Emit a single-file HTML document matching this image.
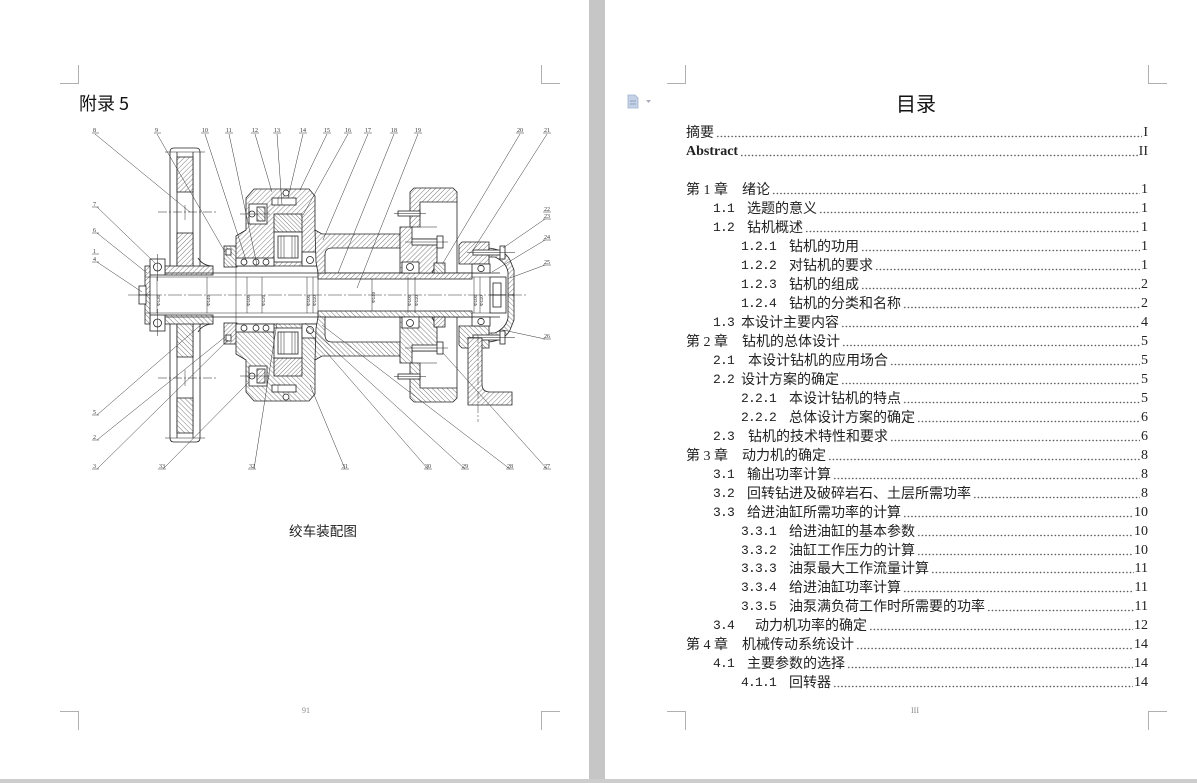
<!DOCTYPE html>
<html><head><meta charset="utf-8"><style>
html,body{margin:0;padding:0;background:#fff}
body{width:1197px;height:783px;position:relative;overflow:hidden;font-family:"Liberation Serif","Noto Sans CJK SC",serif}
.cm{position:absolute;background:#b0b0b0}
.r{position:absolute;right:49px;height:19px;line-height:19px;display:flex;font-size:14px;font-family:"Liberation Serif","Noto Sans CJK SC",serif;color:#222;white-space:nowrap}
.t{font-family:"Noto Sans CJK SC",sans-serif}
.ld{flex:1;margin:0 1px 0 2px;background-image:radial-gradient(circle,#555 0.6px,rgba(255,255,255,0) 0.95px);background-size:3.6px 3px;background-repeat:repeat-x;background-position:0 12px}
.n{position:absolute;font-family:"Liberation Mono",monospace;font-size:13px;letter-spacing:-0.8px;line-height:19px;height:19px;color:#222;white-space:nowrap}
.c{position:absolute;font-size:14px;line-height:19px;height:19px;color:#222;white-space:nowrap;font-family:"Liberation Serif","Noto Sans CJK SC",serif}
</style></head><body>

<!-- divider and bottom strip -->
<div style="position:absolute;left:589px;top:0;width:16px;height:783px;background:#c6c6c6"></div>
<div style="position:absolute;left:0;top:779px;width:1197px;height:4px;background:#cdcdcd"></div>

<!-- corner marks left page -->
<div class="cm" style="left:60px;top:83px;width:18px;height:1px"></div>
<div class="cm" style="left:78px;top:65px;width:1px;height:19px"></div>
<div class="cm" style="left:541px;top:83px;width:19px;height:1px"></div>
<div class="cm" style="left:541px;top:65px;width:1px;height:19px"></div>
<div class="cm" style="left:60px;top:711px;width:18px;height:1px"></div>
<div class="cm" style="left:78px;top:711px;width:1px;height:19px"></div>
<div class="cm" style="left:541px;top:711px;width:19px;height:1px"></div>
<div class="cm" style="left:541px;top:711px;width:1px;height:19px"></div>
<!-- corner marks right page -->
<div class="cm" style="left:667px;top:83px;width:18px;height:1px"></div>
<div class="cm" style="left:685px;top:65px;width:1px;height:19px"></div>
<div class="cm" style="left:1148px;top:83px;width:19px;height:1px"></div>
<div class="cm" style="left:1148px;top:65px;width:1px;height:19px"></div>
<div class="cm" style="left:667px;top:711px;width:18px;height:1px"></div>
<div class="cm" style="left:685px;top:711px;width:1px;height:19px"></div>
<div class="cm" style="left:1148px;top:711px;width:19px;height:1px"></div>
<div class="cm" style="left:1148px;top:711px;width:1px;height:19px"></div>

<!-- left page texts -->
<div style="position:absolute;left:79px;top:91px;font-size:18px;line-height:24px;color:#111;font-family:'Noto Sans CJK SC',sans-serif">附录 5</div>
<div style="position:absolute;left:289px;top:520px;font-size:13.6px;line-height:20px;color:#222;font-family:'Noto Sans CJK SC',sans-serif">绞车装配图</div>
<div style="position:absolute;left:302px;top:705px;font-size:8px;line-height:12px;color:#888">91</div>
<div style="position:absolute;left:911px;top:705px;font-size:8px;line-height:12px;color:#888">III</div>

<!-- drawing -->
<svg width="589" height="779" style="position:absolute;left:0;top:0" xmlns="http://www.w3.org/2000/svg">
<defs>
<pattern id="h" patternUnits="userSpaceOnUse" width="3.5" height="3.5" patternTransform="rotate(45)"><rect width="3.5" height="3.5" fill="#fff"/><line x1="0" y1="0" x2="0" y2="3.5" stroke="#444" stroke-width="0.7"/></pattern>
<pattern id="g" patternUnits="userSpaceOnUse" width="3" height="3" patternTransform="rotate(-45)"><rect width="3" height="3" fill="#fff"/><line x1="0" y1="0" x2="0" y2="3" stroke="#444" stroke-width="0.7"/></pattern>
</defs>
<g id="up" stroke="#222" stroke-width="0.8" fill="none">
 <!-- big gear -->
 <path d="M170 267 V152 Q170 148 174 148 H196 Q200 148 200 152 V267"/>
 <line x1="165" y1="152" x2="205" y2="152" stroke-width="0.5"/>
 <line x1="177" y1="152" x2="177" y2="267"/>
 <line x1="193" y1="152" x2="193" y2="267"/>
 <rect x="177" y="157" width="16" height="35" fill="url(#h)"/>
 <rect x="177" y="233" width="16" height="34" fill="url(#h)"/>
 <line x1="158" y1="212" x2="216" y2="212" stroke-width="0.5" stroke-dasharray="9 2 2 2"/>
 <rect x="165" y="266" width="48" height="9" fill="url(#h)"/>
 <path d="M198 258 Q203 266 213 266"/>
 <!-- left end -->
 <rect x="150" y="259" width="15" height="16" fill="#fff"/>
 <circle cx="157.5" cy="267" r="4"/>
 <line x1="157.5" y1="254" x2="157.5" y2="281" stroke-width="0.5"/>
 <rect x="145" y="266" width="5" height="29" fill="url(#h)"/>
 <rect x="139" y="286" width="7" height="9" fill="#fff"/>
 <!-- small seal block -->
 <rect x="224" y="246" width="13" height="21" fill="url(#g)"/>
 <rect x="226" y="249" width="5" height="6" fill="#fff"/>
 <!-- shaft -->
 <line x1="165" y1="273" x2="500" y2="273"/>
 <line x1="145" y1="277" x2="490" y2="277" stroke-width="0.5"/>
 <rect x="318" y="273" width="154" height="6" fill="url(#h)"/>
 <g stroke-width="0.5">
  <line x1="157" y1="277" x2="157" y2="295"/>
  <line x1="207" y1="277" x2="207" y2="295"/>
  <line x1="247" y1="277" x2="247" y2="295"/>
  <line x1="262" y1="277" x2="262" y2="295"/>
  <line x1="307" y1="277" x2="307" y2="295"/>
  <line x1="313" y1="277" x2="313" y2="295"/>
  <line x1="372" y1="279" x2="372" y2="295"/>
  <line x1="408" y1="277" x2="408" y2="295"/>
  <line x1="415" y1="277" x2="415" y2="295"/>
  <line x1="474" y1="277" x2="474" y2="295"/>
  <line x1="480" y1="277" x2="480" y2="295"/>
  <line x1="236" y1="266" x2="236" y2="295"/>
  <line x1="318" y1="266" x2="318" y2="295"/>
 </g>
 <!-- middle housing -->
 <path d="M236 266 V236 L246 230 V198 L254 189 H309 L315 196 V230 L321 266 Z" fill="url(#h)"/>
 <rect x="249" y="204" width="18" height="20" fill="#fff"/>
 <rect x="257" y="207" width="8" height="14" fill="url(#g)"/>
 <circle cx="252" cy="214" r="3"/>
 <line x1="240" y1="214" x2="270" y2="214" stroke-width="0.5"/>
 <rect x="272" y="198" width="24" height="7" fill="#fff"/>
 <line x1="278" y1="198" x2="278" y2="205" stroke-width="0.5"/>
 <circle cx="286" cy="193" r="3" fill="#fff"/>
 <rect x="274" y="214" width="28" height="18" fill="url(#g)"/>
 <rect x="274" y="232" width="28" height="30" fill="#fff"/>
 <rect x="278" y="236" width="20" height="22"/>
 <line x1="281" y1="236" x2="281" y2="258" stroke-width="0.5"/>
 <line x1="284" y1="236" x2="284" y2="258" stroke-width="0.5"/>
 <line x1="292" y1="236" x2="292" y2="258" stroke-width="0.5"/>
 <line x1="295" y1="236" x2="295" y2="258" stroke-width="0.5"/>
 <rect x="236" y="258" width="38" height="8" fill="#fff"/>
 <circle cx="244" cy="262" r="3"/><circle cx="256" cy="262" r="3"/><circle cx="266" cy="262" r="3"/>
 <rect x="302" y="252" width="16" height="14" fill="#fff"/>
 <circle cx="310" cy="260" r="3.5"/>
 <!-- drum -->
 <path d="M315 230 L322 234 H400 V248 H332 Q325 248 325 255 V273 H318 L316 262 Z" fill="url(#h)"/>
 <!-- right flange -->
 <path d="M400 227 H412 V239 H437 V262 L432 273 H400 Z" fill="url(#h)"/>
 <rect x="412" y="239" width="26" height="6" fill="#fff"/>
 <rect x="437" y="236" width="6" height="12" fill="#fff"/>
 <line x1="405" y1="242" x2="448" y2="242" stroke-width="0.5"/>
 <rect x="402" y="262" width="17" height="11" fill="#fff"/>
 <circle cx="410" cy="267" r="3.5"/>
 <!-- right housing -->
 <path d="M410 227 V192 L414 188 H453 L457 192 V202 H420 V227 Z" fill="url(#h)"/>
 <line x1="457" y1="202" x2="457" y2="273"/>
 <line x1="420" y1="227" x2="437" y2="227" stroke-width="0.5"/>
 <rect x="398" y="211" width="22" height="5" fill="#fff"/>
 <line x1="394" y1="213.5" x2="426" y2="213.5" stroke-width="0.5"/>
 <rect x="434" y="263" width="11" height="10" fill="url(#g)"/>
 <!-- right cover -->
 <path d="M459 245 L462 242 H489 V264 H459 Z" fill="url(#h)"/>
 <path d="M489 248 Q505 250 510 260 L514 270 V295 H508 V272 Q506 262 495 257 H489 Z" fill="url(#h)"/>
 <rect x="473" y="250" width="28" height="5" fill="#fff"/>
 <rect x="500" y="246" width="5" height="13" fill="#fff"/>
 <line x1="467" y1="252.5" x2="515" y2="252.5" stroke-width="0.5"/>
 <rect x="472" y="264" width="18" height="9" fill="#fff"/>
 <circle cx="481" cy="268.5" r="3.2"/>
 <rect x="490" y="277" width="16" height="18" fill="#fff"/>
 <rect x="493" y="283" width="8" height="12"/>
</g>
<use href="#up" transform="matrix(1 0 0 -1 0 590)"/>

<!-- asymmetric foot -->
<path d="M468 338 H482 V384 Q482 392 490 392 H512 V405 H468 Z" fill="url(#h)" stroke="#222" stroke-width="0.8"/>
<line x1="478" y1="335" x2="478" y2="422" stroke="#333" stroke-width="0.5" stroke-dasharray="8 2 2 2"/>

<!-- centerline -->
<line x1="128" y1="295" x2="528" y2="295" stroke="#333" stroke-width="0.6" stroke-dasharray="14 2 2 2"/>
<line x1="185" y1="205" x2="185" y2="220" stroke="#333" stroke-width="0.5"/>
<line x1="185" y1="370" x2="185" y2="386" stroke="#333" stroke-width="0.5"/>

<!-- dimension texts -->
<g font-size="4.5" fill="#333" font-family="Liberation Sans, sans-serif">
 <text transform="translate(160,306) rotate(-90)">Φ130</text>
 <text transform="translate(210,306) rotate(-90)">Φ140</text>
 <text transform="translate(250,306) rotate(-90)">Φ100</text>
 <text transform="translate(265,306) rotate(-90)">Φ120</text>
 <text transform="translate(310,306) rotate(-90)">Φ100</text>
 <text transform="translate(316,306) rotate(-90)">Φ110</text>
 <text transform="translate(375,303) rotate(-90)">Φ140</text>
 <text transform="translate(411,306) rotate(-90)">Φ100</text>
 <text transform="translate(418,306) rotate(-90)">Φ110</text>
 <text transform="translate(477,306) rotate(-90)">Φ100</text>
 <text transform="translate(483,306) rotate(-90)">Φ110</text>
</g>

<!-- leaders -->
<g stroke="#333" stroke-width="0.5">
 <line x1="95" y1="134" x2="190" y2="212"/>
 <line x1="157" y1="134" x2="225" y2="252"/>
 <line x1="205" y1="134" x2="247" y2="263"/>
 <line x1="229" y1="134" x2="257" y2="265"/>
 <line x1="255" y1="134" x2="272" y2="192"/>
 <line x1="277" y1="134" x2="282" y2="205"/>
 <line x1="303" y1="134" x2="288" y2="198"/>
 <line x1="327" y1="134" x2="300" y2="190"/>
 <line x1="348" y1="134" x2="303" y2="215"/>
 <line x1="368" y1="134" x2="323" y2="240"/>
 <line x1="394" y1="134" x2="338" y2="273"/>
 <line x1="418" y1="134" x2="357" y2="288"/>
 <line x1="520" y1="134" x2="443" y2="263"/>
 <line x1="547" y1="134" x2="473" y2="250"/>
 <line x1="97" y1="207" x2="155" y2="263"/>
 <line x1="97" y1="233" x2="147" y2="273"/>
 <line x1="97" y1="262" x2="142" y2="292"/>
 <line x1="97" y1="415" x2="203" y2="323"/>
 <line x1="97" y1="440" x2="225" y2="337"/>
 <line x1="97" y1="469" x2="228" y2="340"/>
 <line x1="163" y1="469" x2="248" y2="383"/>
 <line x1="254" y1="469" x2="277" y2="323"/>
 <line x1="345" y1="469" x2="310" y2="385"/>
 <line x1="428" y1="469" x2="307" y2="330"/>
 <line x1="465" y1="469" x2="305" y2="323"/>
 <line x1="510" y1="469" x2="322" y2="325"/>
 <line x1="547" y1="469" x2="443" y2="353"/>
 <line x1="545" y1="219" x2="503" y2="248"/>
 <line x1="545" y1="240" x2="492" y2="272"/>
 <line x1="545" y1="265" x2="510" y2="278"/>
 <line x1="545" y1="339" x2="503" y2="330"/>
 <!-- underlines -->
 <line x1="92" y1="133" x2="99" y2="133"/><line x1="154" y1="133" x2="161" y2="133"/>
 <line x1="201" y1="133" x2="209" y2="133"/><line x1="225" y1="133" x2="233" y2="133"/>
 <line x1="251" y1="133" x2="259" y2="133"/><line x1="273" y1="133" x2="281" y2="133"/>
 <line x1="299" y1="133" x2="307" y2="133"/><line x1="323" y1="133" x2="331" y2="133"/>
 <line x1="344" y1="133" x2="352" y2="133"/><line x1="364" y1="133" x2="372" y2="133"/>
 <line x1="390" y1="133" x2="398" y2="133"/><line x1="414" y1="133" x2="422" y2="133"/>
 <line x1="516" y1="133" x2="524" y2="133"/><line x1="543" y1="133" x2="551" y2="133"/>
 <line x1="92" y1="207" x2="99" y2="207"/><line x1="92" y1="233" x2="99" y2="233"/>
 <line x1="92" y1="254" x2="99" y2="254"/><line x1="92" y1="262" x2="99" y2="262"/>
 <line x1="92" y1="415" x2="99" y2="415"/><line x1="92" y1="440" x2="99" y2="440"/><line x1="92" y1="469" x2="99" y2="469"/>
 <line x1="158" y1="469" x2="166" y2="469"/><line x1="248" y1="469" x2="256" y2="469"/>
 <line x1="341" y1="469" x2="349" y2="469"/><line x1="424" y1="469" x2="432" y2="469"/>
 <line x1="461" y1="469" x2="469" y2="469"/><line x1="506" y1="469" x2="514" y2="469"/>
 <line x1="543" y1="469" x2="551" y2="469"/>
 <line x1="543" y1="212" x2="551" y2="212"/><line x1="543" y1="219" x2="551" y2="219"/>
 <line x1="543" y1="240" x2="551" y2="240"/><line x1="543" y1="265" x2="551" y2="265"/>
 <line x1="543" y1="339" x2="551" y2="339"/>
</g>
<g font-size="6" fill="#333" font-family="Liberation Serif, serif">
 <text x="93" y="132">8</text><text x="155" y="132">9</text><text x="202" y="132">10</text>
 <text x="226" y="132">11</text><text x="252" y="132">12</text><text x="274" y="132">13</text>
 <text x="300" y="132">14</text><text x="324" y="132">15</text><text x="345" y="132">16</text>
 <text x="365" y="132">17</text><text x="391" y="132">18</text><text x="415" y="132">19</text>
 <text x="517" y="132">20</text><text x="544" y="132">21</text>
 <text x="93" y="206">7</text><text x="93" y="232">6</text>
 <text x="93" y="253">1</text><text x="93" y="261">4</text>
 <text x="93" y="414">5</text><text x="93" y="439">2</text><text x="93" y="468">3</text>
 <text x="159" y="468">33</text><text x="249" y="468">32</text><text x="342" y="468">31</text>
 <text x="425" y="468">30</text><text x="462" y="468">29</text><text x="507" y="468">28</text>
 <text x="544" y="468">27</text>
 <text x="544" y="211">22</text><text x="544" y="218">23</text>
 <text x="544" y="239">24</text><text x="544" y="264">25</text><text x="544" y="338">26</text>
</g>
</svg>

<!-- doc icon -->
<svg width="30" height="16" style="position:absolute;left:626px;top:94px" xmlns="http://www.w3.org/2000/svg">
 <path d="M2 1 H9 L12 4 V14 H2 Z" fill="#c5d2e6" stroke="#9fb2cf" stroke-width="0.8"/>
 <line x1="4" y1="7" x2="10" y2="7" stroke="#8aa0c2" stroke-width="1"/>
 <line x1="4" y1="10" x2="10" y2="10" stroke="#8aa0c2" stroke-width="1"/>
 <path d="M20 6 L25 6 L22.5 9 Z" fill="#aab"/>
</svg>

<!-- TOC title -->
<div style="position:absolute;left:896px;top:90px;font-size:20px;line-height:26px;color:#111;font-family:'Noto Sans CJK SC',sans-serif">目录</div>

<div style="position:absolute;left:0;top:2px;width:1197px;height:760px">
<!-- TOC rows -->
<div class="r" style="left:686px;top:121px"><span class="t">摘要</span><span class="ld"></span><span>I</span></div>
<div class="r" style="left:686px;top:140px"><b>Abstract</b><span class="ld"></span><span>II</span></div>

<div class="c" style="left:686px;top:178px"><span class="t">第</span> 1 <span class="t">章</span></div>
<div class="r" style="left:742px;top:178px"><span class="t">绪论</span><span class="ld"></span><span>1</span></div>

<div class="n" style="left:713px;top:197px">1.1</div>
<div class="r" style="left:747px;top:197px"><span class="t">选题的意义</span><span class="ld"></span><span>1</span></div>
<div class="n" style="left:713px;top:216px">1.2</div>
<div class="r" style="left:747px;top:216px"><span class="t">钻机概述</span><span class="ld"></span><span>1</span></div>
<div class="n" style="left:741px;top:235px">1.2.1</div>
<div class="r" style="left:789px;top:235px"><span class="t">钻机的功用</span><span class="ld"></span><span>1</span></div>
<div class="n" style="left:741px;top:254px">1.2.2</div>
<div class="r" style="left:789px;top:254px"><span class="t">对钻机的要求</span><span class="ld"></span><span>1</span></div>
<div class="n" style="left:741px;top:273px">1.2.3</div>
<div class="r" style="left:789px;top:273px"><span class="t">钻机的组成</span><span class="ld"></span><span>2</span></div>
<div class="n" style="left:741px;top:292px">1.2.4</div>
<div class="r" style="left:789px;top:292px"><span class="t">钻机的分类和名称</span><span class="ld"></span><span>2</span></div>
<div class="n" style="left:713px;top:311px">1.3</div>
<div class="r" style="left:741px;top:311px"><span class="t">本设计主要内容</span><span class="ld"></span><span>4</span></div>

<div class="c" style="left:686px;top:330px"><span class="t">第</span> 2 <span class="t">章</span></div>
<div class="r" style="left:742px;top:330px"><span class="t">钻机的总体设计</span><span class="ld"></span><span>5</span></div>
<div class="n" style="left:713px;top:349px">2.1</div>
<div class="r" style="left:748px;top:349px"><span class="t">本设计钻机的应用场合</span><span class="ld"></span><span>5</span></div>
<div class="n" style="left:713px;top:368px">2.2</div>
<div class="r" style="left:741px;top:368px"><span class="t">设计方案的确定</span><span class="ld"></span><span>5</span></div>
<div class="n" style="left:741px;top:387px">2.2.1</div>
<div class="r" style="left:789px;top:387px"><span class="t">本设计钻机的特点</span><span class="ld"></span><span>5</span></div>
<div class="n" style="left:741px;top:406px">2.2.2</div>
<div class="r" style="left:789px;top:406px"><span class="t">总体设计方案的确定</span><span class="ld"></span><span>6</span></div>
<div class="n" style="left:713px;top:425px">2.3</div>
<div class="r" style="left:748px;top:425px"><span class="t">钻机的技术特性和要求</span><span class="ld"></span><span>6</span></div>

<div class="c" style="left:686px;top:444px"><span class="t">第</span> 3 <span class="t">章</span></div>
<div class="r" style="left:742px;top:444px"><span class="t">动力机的确定</span><span class="ld"></span><span>8</span></div>
<div class="n" style="left:713px;top:463px">3.1</div>
<div class="r" style="left:747px;top:463px"><span class="t">输出功率计算</span><span class="ld"></span><span>8</span></div>
<div class="n" style="left:713px;top:482px">3.2</div>
<div class="r" style="left:747px;top:482px"><span class="t">回转钻进及破碎岩石、土层所需功率</span><span class="ld"></span><span>8</span></div>
<div class="n" style="left:713px;top:501px">3.3</div>
<div class="r" style="left:747px;top:501px"><span class="t">给进油缸所需功率的计算</span><span class="ld"></span><span>10</span></div>
<div class="n" style="left:741px;top:520px">3.3.1</div>
<div class="r" style="left:789px;top:520px"><span class="t">给进油缸的基本参数</span><span class="ld"></span><span>10</span></div>
<div class="n" style="left:741px;top:539px">3.3.2</div>
<div class="r" style="left:789px;top:539px"><span class="t">油缸工作压力的计算</span><span class="ld"></span><span>10</span></div>
<div class="n" style="left:741px;top:557px">3.3.3</div>
<div class="r" style="left:789px;top:557px"><span class="t">油泵最大工作流量计算</span><span class="ld"></span><span>11</span></div>
<div class="n" style="left:741px;top:576px">3.3.4</div>
<div class="r" style="left:789px;top:576px"><span class="t">给进油缸功率计算</span><span class="ld"></span><span>11</span></div>
<div class="n" style="left:741px;top:595px">3.3.5</div>
<div class="r" style="left:789px;top:595px"><span class="t">油泵满负荷工作时所需要的功率</span><span class="ld"></span><span>11</span></div>
<div class="n" style="left:713px;top:614px">3.4</div>
<div class="r" style="left:755px;top:614px"><span class="t">动力机功率的确定</span><span class="ld"></span><span>12</span></div>

<div class="c" style="left:686px;top:633px"><span class="t">第</span> 4 <span class="t">章</span></div>
<div class="r" style="left:742px;top:633px"><span class="t">机械传动系统设计</span><span class="ld"></span><span>14</span></div>
<div class="n" style="left:713px;top:652px">4.1</div>
<div class="r" style="left:747px;top:652px"><span class="t">主要参数的选择</span><span class="ld"></span><span>14</span></div>
<div class="n" style="left:741px;top:671px">4.1.1</div>
<div class="r" style="left:789px;top:671px"><span class="t">回转器</span><span class="ld"></span><span>14</span></div>
</div>

</body></html>
